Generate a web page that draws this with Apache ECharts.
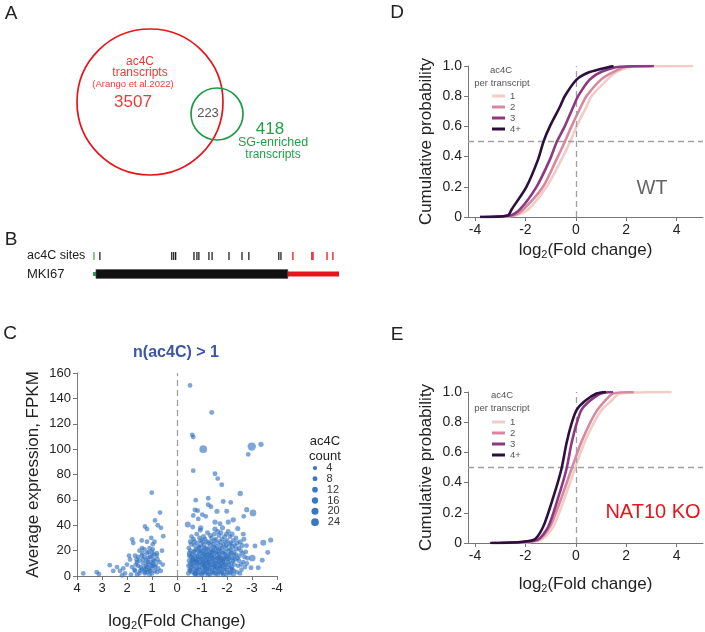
<!DOCTYPE html>
<html><head><meta charset="utf-8">
<script src="https://cdn.jsdelivr.net/npm/echarts@6/dist/echarts.min.js"></script>
<style>html,body{margin:0;padding:0;background:#fff}#c{width:705px;height:632px}</style>
</head><body><div id="c"></div>
<script>
// ---------------- DATA ----------------
// Panel A: Venn counts
const vennLabels = ['ac4C transcripts', 'SG-enriched transcripts'];
const vennOnlyAc4c = 3507;
const vennOverlap = 223;
const vennOnlySG = 418;
// Venn circle geometry [cx, cy, r] in panel units
const vennCircles = [[150, 102, 73], [217, 114, 26]];

// Panel B: MKI67 transcript structure (nt) and ac4C site positions
const geneSegments = [[0, 150, 0], [150, 9900, 1], [9900, 12500, 2]]; // [start,end,kind] 0=5'UTR 1=CDS 2=3'UTR
const ac4cSites = [50, 350, 4000, 4100, 4200, 5130, 5280, 5380, 5890, 6050, 6910, 7570, 7920, 9440, 9550, 10160, 11120, 11180, 11890, 12190];

// Panel C: [log2FC, FPKM, ac4C count]
const scatterPoints = [
 [1.01,65.7,3],[0.68,50,3],[0.88,43.8,3],[1.28,39,3],[0.77,40,3],[0.64,38,3],[1.2,37,3],[0.55,31.4,3],[1.79,28.8,3],[1.75,26,3],
 [1.41,28,3],[1.03,30,3],[1.2,27,3],[0.97,25,3],[1.1,22,3],[1.3,21,3],[1.5,20,3],[0.97,21,3],[0.81,18,3],[1.92,16,3],
 [1.68,16,3],[1.41,16,3],[1.01,16,3],[0.81,16,3],[1.88,13,3],[1.62,13,3],[1.36,13,3],[1.17,11,3],[0.9,12,3],[0.7,11,3],
 [0.57,9,3],[2.69,8.5,3],[2.15,6,3],[2.28,4,3],[2.55,4,3],[1.8,7,3],[1.55,8,3],[1.2,7,3],[0.95,8,3],[0.75,6,3],
 [1.68,4,3],[1.41,5,3],[1.08,4,3],[0.9,4,3],[1.5,2,3],[1.3,3,3],[1.0,2,3],[2.08,2,3],[1.84,1,3],[3.21,3,3],
 [3.12,1.5,3],[3.75,2,3],[2.2,0.5,3],[1.6,1,3],[1.2,18,3],[1.0,19,3],[1.35,10,3],[1.15,14,3],[0.85,9,3],[1.05,6,3],
 [1.45,7,3],[1.25,5,3],[0.95,13,3],[1.6,11,3],[0.8,3,3],[1.1,1,3],[1.5,12,3],[1.4,22,3],[0.9,27,3],[1.7,5,3],
 [2.0,9,3],[0.6,20,3],[0.65,4,3],[1.3,15,4],[1.15,9,3],[1.05,11,3],
 [1.25,8,3],[1.12,5,3],[0.98,10,3],[1.32,6,3],[1.18,3,3],[0.88,7,3],[1.22,12,3],[1.08,15,3],[1.38,18,3],[0.92,17,3],
 [1.48,4,3],[1.02,8,3],[1.28,2,3],[1.14,19,3],[0.78,13,3],[1.55,15,3],[1.65,9,3],[2.4,7,3],
 [-0.52,150.2,3],[-1.39,128.8,4],[-0.61,111.3,3],[-0.65,109.5,3],[-1.05,100,20],[-2.99,102,24],[-3.36,103.8,6],[-2.85,95.8,3],
 [-0.65,83,3],[-1.52,80.6,4],[-1.63,76.8,3],[-1.79,72,4],[-2.53,65,6],[-0.75,59.8,3],[-1.25,61.3,3],[-1.85,58.8,4],
 [-2.15,58,3],[-1.25,56.2,4],[-1.36,54.6,3],[-0.72,52,4],[-0.83,51.5,3],[-1.01,48.4,3],[-1.15,47,3],[-1.6,51,5],
 [-1.99,51,4],[-2.79,52.3,5],[-3.04,49.7,14],[-2.67,47,3],[-0.65,47.7,3],[-0.85,45,3],[-0.43,40.5,10],[-0.63,38.7,4],
 [-0.95,38,6],[-1.52,42.5,6],[-1.72,41.2,4],[-2.05,42.5,5],[-2.25,44.3,6],[-2.43,37.4,5],[-2.65,33,4],[-3.45,26.3,10],
 [-3.75,28.4,5],[-3.12,23.7,4],[-3.63,18.6,4],[-3.01,14.2,14],[-3.41,12.4,4],[-2.79,9.8,4],[-2.96,6.5,4],[-3.25,6.5,4],[-2.21,5.2,4],
 [-0.45,2,3],[-0.5,5,3],[-0.52,9,4],[-0.48,12,3],[-0.55,15,3],[-0.5,18,5],[-0.47,22,3],[-0.53,27,4],[-0.58,31,3],[-0.6,3,3],
 [-0.62,7,3],[-0.65,11,6],[-0.63,14,3],[-0.67,19,3],[-0.7,24,4],[-0.66,29,3],[-0.72,1,3],[-0.75,5,3],[-0.78,9,3],[-0.74,13,5],
 [-0.8,16,3],[-0.77,21,3],[-0.82,26,4],[-0.79,33,3],[-0.85,3,3],[-0.88,7,4],[-0.9,11,3],[-0.86,15,3],[-0.92,18,6],[-0.89,23,3],
 [-0.95,28,3],[-0.93,36,4],[-0.98,2,3],[-1.0,6,3],[-1.02,10,5],[-0.99,13,3],[-1.05,17,3],[-1.03,20,4],[-1.08,25,3],[-1.06,31,5],
 [-1.1,4,3],[-1.12,8,3],[-1.15,12,4],[-1.13,15,3],[-1.18,19,3],[-1.16,22,6],[-1.2,27,3],[-1.22,34,4],[-1.25,1,3],[-1.27,5,3],
 [-1.3,9,3],[-1.28,13,5],[-1.32,16,3],[-1.35,21,3],[-1.33,24,4],[-1.38,30,3],[-1.4,3,3],[-1.42,7,4],[-1.45,11,3],[-1.43,14,3],
 [-1.48,18,5],[-1.46,23,3],[-1.5,28,3],[-1.52,37,6],[-1.55,2,3],[-1.57,6,3],[-1.6,10,4],[-1.58,13,3],[-1.62,17,3],[-1.65,20,5],
 [-1.63,26,3],[-1.68,32,4],[-1.7,4,3],[-1.72,8,3],[-1.75,12,3],[-1.73,15,6],[-1.78,19,3],[-1.76,24,3],[-1.8,29,4],[-1.82,38,5],
 [-1.85,1,3],[-1.87,5,3],[-1.9,9,4],[-1.88,14,3],[-1.92,17,3],[-1.95,22,5],[-1.93,27,3],[-1.98,33,4],[-2.0,3,3],[-2.02,7,3],
 [-2.05,11,4],[-2.03,16,3],[-2.08,20,3],[-2.1,25,6],[-2.12,31,3],[-2.15,6,3],[-2.18,10,4],[-2.2,14,3],[-2.17,18,3],[-2.22,23,5],
 [-2.25,28,3],[-2.28,4,3],[-2.3,9,3],[-2.32,13,4],[-2.35,17,3],[-2.38,21,3],[-2.4,26,6],[-2.45,8,3],[-2.48,12,3],[-2.5,16,4],
 [-2.55,20,3],[-2.6,24,5],[-2.65,11,3],[-2.7,15,4],[-2.58,5,3],[-2.75,19,3],
 [-0.56,6,3],[-0.6,10,3],[-0.64,13,3],[-0.68,8,3],[-0.71,16,3],[-0.73,4,3],[-0.76,12,3],[-0.81,6,3],[-0.84,10,4],[-0.87,19,3],
 [-0.91,5,3],[-0.94,14,3],[-0.97,9,3],[-1.01,16,3],[-1.04,3,3],[-1.07,11,3],[-1.09,7,4],[-1.11,18,3],[-1.14,6,3],[-1.17,10,3],
 [-1.19,14,3],[-1.21,3,3],[-1.24,8,3],[-1.26,17,4],[-1.29,11,3],[-1.31,6,3],[-1.34,14,3],[-1.36,9,3],[-1.39,19,3],[-1.41,4,3],
 [-1.44,12,4],[-1.47,8,3],[-1.49,15,3],[-1.51,5,3],[-1.54,10,3],[-1.56,19,3],[-1.59,7,3],[-1.61,14,4],[-1.64,3,3],[-1.67,11,3],
 [-1.69,17,3],[-1.71,6,3],[-1.74,10,3],[-1.77,14,3],[-1.79,3,3],[-1.81,8,4],[-1.84,18,3],[-1.86,11,3],[-1.89,6,3],[-1.91,13,3],
 [-1.94,9,3],[-1.96,15,3],[-1.99,5,3],[-2.04,13,3],[-2.07,9,3],[-2.11,17,4],[-2.14,3,3],[-2.19,7,3],[-2.24,12,3],[-2.29,16,3],
 [-0.46,8,3],[-0.49,16,3],[-0.54,20,4],[-0.57,25,3],[-0.61,17,3],[-0.69,27,3],[-0.72,20,3],[-0.76,2,3],[-0.83,13,3],[-0.86,22,4],
 [-0.9,30,3],[-0.96,20,3],[-0.97,24,3],[-1.02,27,4],[-1.04,13,3],[-1.09,22,3],[-1.12,29,3],[-1.17,16,3],[-1.2,6,4],[-1.23,21,3],
 [-1.26,26,3],[-1.3,18,3],[-1.33,32,4],[-1.37,27,3],[-1.4,16,3],[-1.44,20,3],[-1.47,25,4],[-1.49,33,3],[-1.53,22,3],[-1.56,29,3],
 [-1.6,23,3],[-1.63,35,4],[-1.66,14,3],[-1.7,21,3],[-1.73,27,3],[-1.76,34,4],[-1.8,22,3],[-1.83,12,3],[-1.86,25,3],[-1.9,31,4],
 [-1.93,19,3],[-1.97,24,3],[-2.01,28,3],[-2.05,35,4],[-2.09,14,3],[-2.13,21,3],[-2.16,26,3],[-2.2,33,5],[-2.26,19,3],[-2.31,24,3],
 [-2.36,30,4],[-2.42,14,3],[-2.47,22,3],[-2.53,27,5],[-2.57,9,3],[-2.63,18,3],[-2.68,29,4],[-2.72,7,3],[-2.78,24,3],[-2.82,14,4],
 [-0.53,4,3],[-0.7,2,3],[-0.84,1,3],[-1.0,1,3],[-1.15,2,3],[-1.32,1,3],[-1.48,2,3],[-1.63,1,3],[-1.8,2,3],[-1.97,1,3],
 [-2.12,2,3],[-2.26,1,3],[-2.4,3,3],[-2.52,2,3],[-0.58,12,3],[-0.8,11,3],[-1.06,9,3],[-1.23,11,3],[-1.52,8,3],[-1.74,7,3]
];
const legendCounts = [4, 8, 12, 16, 20, 24];

// Panels D/E: empirical CDF read as quantiles (x at given cumulative probability)
const groupNames = ['1', '2', '3', '4+'];
const wtProb = [0, 0.01, 0.05, 0.2, 0.38, 0.5, 0.6, 0.73, 0.8, 0.91, 0.96, 0.995, 1];
const wtQ1  = [-3.2, -2.4, -1.89, -1.16, -0.57, -0.22, 0.03, 0.42, 0.62, 1.25, 1.61, 2.28, 4.66];
const wtQ2  = [-3.6, -2.5, -2.09, -1.3, -0.77, -0.43, -0.17, 0.2, 0.42, 1.0, 1.48, 2.0, 3.0];
const wtQ3  = [-3.8, -2.6, -2.22, -1.56, -1.03, -0.75, -0.44, -0.1, 0.09, 0.55, 1.0, 1.75, 3.1];
const wtQ4  = [-3.8, -2.7, -2.55, -1.96, -1.5, -1.28, -1.03, -0.63, -0.44, 0.03, 0.55, 1.35, 1.5];
const koProb = [0, 0.02, 0.106, 0.3, 0.49, 0.66, 0.79, 0.88, 0.94, 0.99, 1];
const koQ1  = [-2.5, -1.4, -0.9, -0.44, -0.04, 0.33, 0.7, 1.02, 1.4, 1.75, 3.8];
const koQ2  = [-3.0, -1.5, -1.03, -0.57, -0.17, 0.2, 0.55, 0.85, 1.15, 1.48, 2.3];
const koQ3  = [-3.3, -1.55, -1.1, -0.7, -0.37, -0.17, 0.03, 0.22, 0.55, 1.0, 1.48];
const koQ4  = [-3.4, -1.69, -1.3, -0.9, -0.57, -0.37, -0.17, 0.03, 0.36, 0.82, 1.2];
const xTickValues = [-4, -2, 0, 2, 4];

// ---------------- STYLE ----------------
const FONT = '"Liberation Sans", Arial, Helvetica, sans-serif';
const groupColors = ['#f2cdc6', '#d9879f', '#8b3a82', '#2b0f3d'];
const vennColors = ['#e8141c', '#1e9b45'];

function T(text, x, y, size, color, extra) {
  return Object.assign({
    type: 'text', x: x, y: y, silent: true,
    style: Object.assign({
      text: text, fill: color || '#222', fontSize: size, fontFamily: FONT,
      textAlign: 'center', textVerticalAlign: 'middle', align: 'center', verticalAlign: 'middle'
    }, extra || {})
  });
}
function axisBase(extra) {
  return Object.assign({
    axisLine: { show: true, onZero: false, lineStyle: { color: '#777', width: 1 } },
    axisTick: { show: true, length: 4, lineStyle: { color: '#777' } },
    axisLabel: { color: '#222', fontSize: 13, fontFamily: FONT, margin: 6 },
    splitLine: { show: false },
    nameTextStyle: { color: '#222', fontSize: 17, fontFamily: FONT,
      rich: { s: { fontSize: 11, fontFamily: FONT, color: '#222', padding: [9, 0, 0, 0] } } }
  }, extra);
}
const hidden = (min, max, inverse) => ({ type: 'value', show: false, min: min, max: max, inverse: !!inverse, splitLine: { show: false } });

function cdfData(q, p) { return q.map((x, i) => [x, p[i]]); }

const chart = echarts.init(document.getElementById('c'), null, { renderer: 'canvas' });

const dashStyle = { color: '#a0a0a0', type: [6, 4], width: 1.3 };

function cdfSeries(qs, probs, axisIdx) {
  return qs.map((q, i) => ({
    type: 'line', name: groupNames[i], xAxisIndex: axisIdx, yAxisIndex: axisIdx,
    data: cdfData(q, probs), showSymbol: false, symbol: 'none', smooth: 0.25,
    lineStyle: { color: groupColors[i], width: 2.6 }, itemStyle: { color: groupColors[i] },
    z: 3 + i,
    markLine: i === 0 ? { silent: true, symbol: 'none', label: { show: false },
      lineStyle: dashStyle, data: [{ yAxis: 0.5 }, { xAxis: 0 }] } : undefined
  }));
}

const cdfAxisX = (extra) => axisBase(Object.assign({
  type: 'value', min: -4.28, max: 5.05,
  axisLabel: { color: '#222', fontSize: 14, fontFamily: FONT, margin: 6, customValues: xTickValues },
  axisTick: { show: true, length: 4, lineStyle: { color: '#777' }, customValues: xTickValues },
  name: 'log{s|2}(Fold change)', nameLocation: 'middle'
}, extra));
const cdfAxisY = () => axisBase({
  type: 'value', min: 0, max: 1, interval: 0.2,
  axisLabel: { color: '#222', fontSize: 14, fontFamily: FONT, margin: 6, formatter: v => v === 0 ? '0' : v.toFixed(1) },
  name: 'Cumulative probability', nameLocation: 'middle', nameGap: 33
});

const option = {
  animation: false,
  backgroundColor: '#fff',
  grid: [
    { left: 0, top: 0, width: 350, height: 230 },          // 0 venn
    { left: 93, top: 250, width: 246, height: 30 },        // 1 gene
    { left: 77, top: 373, width: 200, height: 207 },       // 2 scatter
    { left: 312, top: 462.6, width: 6, height: 65 },       // 3 scatter legend
    { left: 468, top: 66, width: 235, height: 151 },       // 4 D
    { left: 468, top: 392, width: 235, height: 151 }       // 5 E
  ],
  xAxis: [
    Object.assign(hidden(0, 350), { gridIndex: 0 }),
    Object.assign(hidden(0, 12500), { gridIndex: 1 }),
    axisBase({ gridIndex: 2, type: 'value', min: -4, max: 4, interval: 1, inverse: true,
      name: 'log{s|2}(Fold Change)', nameLocation: 'middle', nameGap: 35 }),
    Object.assign(hidden(0, 1), { gridIndex: 3 }),
    cdfAxisX({ gridIndex: 4, nameGap: 23 }),
    cdfAxisX({ gridIndex: 5, nameGap: 31 })
  ],
  yAxis: [
    Object.assign(hidden(0, 230, true), { gridIndex: 0 }),
    Object.assign(hidden(0, 10), { gridIndex: 1 }),
    axisBase({ gridIndex: 2, type: 'value', min: 0, max: 160, interval: 20,
      name: 'Average expression, FPKM', nameLocation: 'middle', nameGap: 35 }),
    Object.assign(hidden(-0.5, 5.5, true), { gridIndex: 3 }),
    Object.assign(cdfAxisY(), { gridIndex: 4 }),
    Object.assign(cdfAxisY(), { gridIndex: 5 })
  ],
  legend: [
    { left: 487, top: 85.5, orient: 'vertical', itemWidth: 13, itemHeight: 3, itemGap: 0, icon: 'rect',
      textStyle: { fontSize: 9.5, color: '#555', fontFamily: FONT, lineHeight: 11 }, data: groupNames, selectedMode: false },
    { left: 487, top: 411.5, orient: 'vertical', itemWidth: 13, itemHeight: 3, itemGap: 0, icon: 'rect',
      textStyle: { fontSize: 9.5, color: '#555', fontFamily: FONT, lineHeight: 11 }, data: groupNames, selectedMode: false }
  ],
  series: [
    { type: 'custom', xAxisIndex: 0, yAxisIndex: 0, data: vennCircles, silent: true,
      renderItem: (params, api) => {
        const c = api.coord([api.value(0), api.value(1)]);
        const r = Math.abs(api.size([api.value(2), 0])[0]);
        return { type: 'circle', shape: { cx: c[0], cy: c[1], r: r },
          style: { fill: 'none', stroke: vennColors[params.dataIndex], lineWidth: 1.7 } };
      } },
    { type: 'custom', xAxisIndex: 1, yAxisIndex: 1, data: geneSegments, silent: true,
      renderItem: (params, api) => {
        const kind = api.value(2);
        const a = api.coord([api.value(0), 2]);
        const b = api.coord([api.value(1), 2]);
        const h = kind === 1 ? 9 : (kind === 2 ? 5 : 4);
        const fill = kind === 1 ? '#111' : (kind === 2 ? '#e8141c' : '#22a04a');
        return { type: 'rect', shape: { x: a[0], y: a[1] - h / 2, width: b[0] - a[0], height: h },
          style: { fill: fill, stroke: kind === 1 ? '#555' : null, lineWidth: 0.6 }, z2: kind === 1 ? 2 : 1 };
      } },
    { type: 'scatter', xAxisIndex: 1, yAxisIndex: 1, silent: true,
      data: ac4cSites.map(p => [p, 8]), symbol: 'rect', symbolSize: [1.3, 8],
      itemStyle: { opacity: 1, color: (p) => {
        const x = p.data[0];
        if (x < geneSegments[0][1]) return '#3cb060';
        if (x >= geneSegments[2][0]) return '#e8141c';
        return '#222';
      } } },
    { type: 'scatter', xAxisIndex: 2, yAxisIndex: 2, data: scatterPoints, silent: true,
      symbolSize: (v) => 4.3 + v[2] * 0.17,
      itemStyle: { color: '#2f6fbf', opacity: 0.62 },
      markLine: { silent: true, symbol: 'none', label: { show: false }, lineStyle: dashStyle, data: [{ xAxis: 0 }] } },
    { type: 'scatter', xAxisIndex: 3, yAxisIndex: 3, silent: true,
      data: legendCounts.map((c, i) => [0.5, i, c]),
      symbolSize: (v) => 3.6 + v[2] * 0.17,
      itemStyle: { color: '#3a78c4', opacity: 1 },
      label: { show: true, position: 'right', distance: 9, formatter: (p) => String(p.data[2]),
        color: '#333', fontSize: 11, fontFamily: FONT } }
  ].concat(cdfSeries([wtQ1, wtQ2, wtQ3, wtQ4], wtProb, 4))
   .concat(cdfSeries([koQ1, koQ2, koQ3, koQ4], koProb, 5)),
  graphic: [
    T('A', 11, 14, 19), T('B', 11, 240, 19), T('C', 10, 334, 19), T('D', 397, 13, 19), T('E', 397, 335, 19),
    // venn texts
    T('ac4C', 140, 62, 12, '#ee3a36'),
    T('transcripts', 140, 73, 12, '#ee3a36'),
    T('(Arango et al.2022)', 133, 84, 9.5, '#ee3a36'),
    T(String(vennOnlyAc4c), 133, 102, 17, '#ee3a36'),
    T(String(vennOverlap), 208, 113, 13, '#555'),
    T(String(vennOnlySG), 270, 129, 17, '#22a04a'),
    T('SG-enriched', 273, 143, 12.5, '#22a04a'),
    T('transcripts', 273, 155, 12, '#22a04a'),
    // gene panel
    T('ac4C sites', 27, 256, 12.5, '#222', { textAlign: 'left', align: 'left' }),
    T('MKI67', 27, 274, 13, '#222', { textAlign: 'left', align: 'left' }),
    // scatter panel
    T('n(ac4C) > 1', 176, 353, 16, '#3b56a6', { fontWeight: 'bold' }),
    T('ac4C', 325, 441, 13, '#222'),
    T('count', 325, 456, 13, '#222'),
    // D/E
    T('ac4C', 501, 70, 9.5, '#555'),
    T('per transcript', 502, 83, 9.5, '#555'),
    T('WT', 652, 188, 20, '#666'),
    T('ac4C', 502, 395, 9.5, '#555'),
    T('per transcript', 502, 408, 9.5, '#555'),
    T('NAT10 KO', 653, 512, 20, '#e8141c')
  ]
};
chart.setOption(option);
</script>
</body></html>
